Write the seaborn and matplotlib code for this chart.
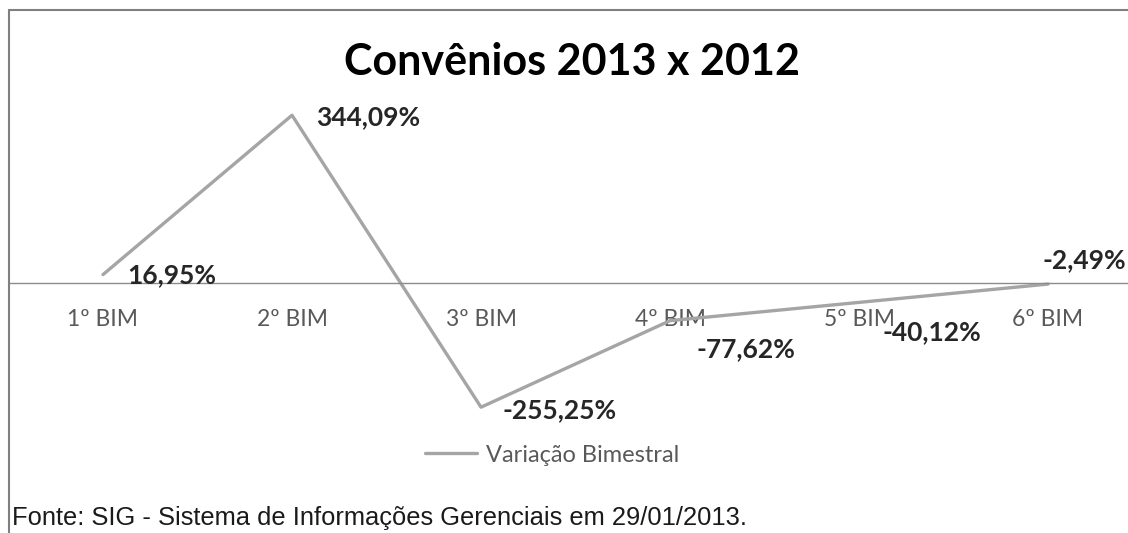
import matplotlib
matplotlib.use("Agg")
import matplotlib.pyplot as plt
import seaborn as sns
import pandas as pd
from matplotlib.lines import Line2D

categories = ["1º BIM", "2º BIM", "3º BIM", "4º BIM", "5º BIM", "6º BIM"]
values = [16.95, 344.09, -255.25, -77.62, -40.12, -2.49]
series_name = "Variação Bimestral"
title = "Convênios 2013 x 2012"
source = "Fonte: SIG - Sistema de Informações Gerenciais em 29/01/2013."

# label offsets in pixels (style)
label_offsets = [(69, -1), (76, -2), (79, -3), (76, -28), (73, -30), (36, 24)]

sns.set_theme(style="white")
plt.rcParams['font.family'] = ['Lato', 'DejaVu Sans']

W, H = 1128, 533
fig = plt.figure(figsize=(W / 100, H / 100), dpi=100)

ax_left_px, ax_right_px = 10, 1128
ax_top_px, ax_bot_px = 88, 429
ax = fig.add_axes([ax_left_px / W, 1 - ax_bot_px / H,
                   (ax_right_px - ax_left_px) / W, (ax_bot_px - ax_top_px) / H])

df = pd.DataFrame({"cat": categories, "val": values})
sns.lineplot(data=df, x="cat", y="val", sort=False, ax=ax, color="#a5a5a5",
             linewidth=2.4, label=series_name, legend=False)

ax.set_xlim(-0.492, 5.423)
ax.set_ylim(-300, 400)
for s in ["top", "right", "left"]:
    ax.spines[s].set_visible(False)
ax.spines["bottom"].set_position(("data", 0))
ax.spines["bottom"].set_color("#8c8c8c")
ax.spines["bottom"].set_linewidth(1.0)
ax.set_yticks([])
ax.set_xlabel("")
ax.set_ylabel("")
ax.tick_params(axis="x", length=0, pad=19, labelsize=16.5, colors="#595959")

for i, (v, off) in enumerate(zip(values, label_offsets)):
    txt = f"{v:.2f}%".replace(".", ",")
    ax.annotate(txt, xy=(i, v), xytext=(off[0] * 0.72, off[1] * 0.72),
                textcoords="offset points", ha="center", va="center",
                fontsize=19, fontweight="bold", color="#262626")

fig.text(572 / W, 1 - 62 / H, title, ha="center", va="center",
         fontsize=31, fontweight="bold", color="#000000")

handle = Line2D([0], [0], color="#a5a5a5", linewidth=2.4)
fig.legend([handle], [series_name], loc="center", bbox_to_anchor=(552 / W, 1 - 455 / H),
           frameon=False, fontsize=17, labelcolor="#595959", handlelength=2.2,
           handletextpad=0.4)

fig.text(12 / W, 1 - 518 / H, source, ha="left", va="center",
         fontsize=18.4, family=["Liberation Sans", "DejaVu Sans"], color="#1a1a1a")

fig.add_artist(Line2D([9 / W, 1], [1 - 10 / H, 1 - 10 / H], transform=fig.transFigure,
                      color="#7f7f7f", linewidth=1.5))
fig.add_artist(Line2D([9 / W, 9 / W], [1 - 10 / H, 0], transform=fig.transFigure,
                      color="#7f7f7f", linewidth=1.5))

fig.savefig("out.png", dpi=100, facecolor="white")
